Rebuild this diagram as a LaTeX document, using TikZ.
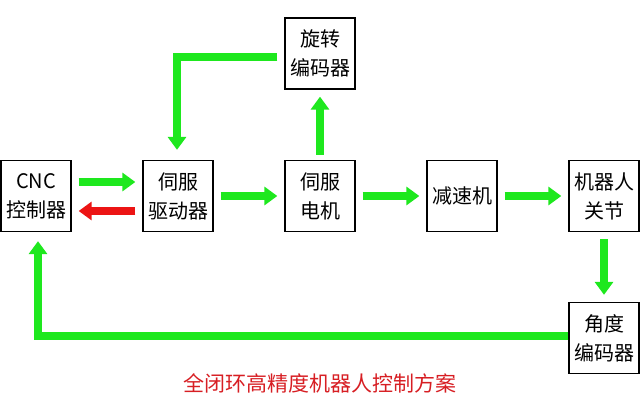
\documentclass[tikz,border=0pt]{standalone}
\usepackage{fontspec}
\setmainfont{Noto Sans CJK SC}
\usetikzlibrary{arrows.meta}
\definecolor{fgreen}{RGB}{30,232,30}
\definecolor{fred}{RGB}{236,20,20}
\definecolor{tred}{RGB}{215,30,35}
\tikzset{
  blk/.style={draw=black, line width=1.3pt, fill=white, minimum width=70pt, minimum height=71pt,
    inner sep=0pt, align=center, font=\fontsize{20}{29}\selectfont},
  garrow/.style={draw=fgreen, line width=8pt, -{Triangle[width=18pt,length=13pt]}},
  rarrow/.style={draw=fred, line width=8pt, -{Triangle[width=18pt,length=13pt]}},
}
\begin{document}
\begin{tikzpicture}[x=1pt,y=-1pt]
\useasboundingbox (0,0) rectangle (640,412);
\node[blk] (cnc) at (36,196) {CNC\\控制器};
\node[blk] (drv) at (178,196) {伺服\\驱动器};
\node[blk] (mot) at (320,196) {伺服\\电机};
\node[blk] (red) at (462,196) {减速机};
\node[blk] (jnt) at (604,196) {机器人\\关节};
\node[blk] (enc) at (320,53.5) {旋转\\编码器};
\node[blk] (ang) at (604,338) {角度\\编码器};
\node[text=tred, font=\fontsize{21}{25}\selectfont] (title) at (320,383) {全闭环高精度机器人控制方案};
\draw[garrow] ([xshift=7pt,yshift=14pt]cnc.east) -- ([xshift=-7pt,yshift=14pt]drv.west);
\draw[rarrow] ([xshift=-7pt,yshift=-15pt]drv.west) -- ([xshift=7pt,yshift=-15pt]cnc.east);
\draw[garrow] ([xshift=7pt]drv.east) -- ([xshift=-7pt]mot.west);
\draw[garrow] ([xshift=7pt]mot.east) -- ([xshift=-7pt]red.west);
\draw[garrow] ([xshift=7pt]red.east) -- ([xshift=-7pt]jnt.west);
\draw[garrow] ([yshift=5pt]mot.north) -- ([yshift=-7pt]enc.south);
\draw[garrow] ([xshift=-7pt,yshift=-3.5pt]enc.west) -| ([xshift=-1pt,yshift=10pt]drv.north);
\draw[garrow] ([yshift=-7pt]jnt.south) -- ([yshift=7pt]ang.north);
\draw[garrow] ([yshift=2pt]ang.west) -| ([xshift=2pt,yshift=-9pt]cnc.south);
\end{tikzpicture}
\end{document}
